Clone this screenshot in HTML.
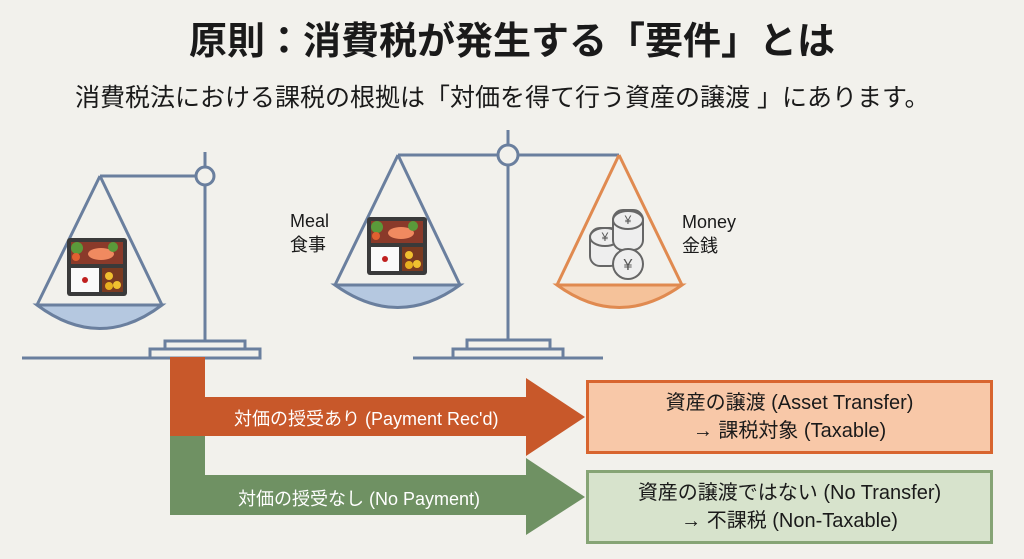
<!DOCTYPE html>
<html><head><meta charset="utf-8"><style>
body{margin:0;width:1024px;height:559px;background:#f2f1ec;overflow:hidden;font-family:"Liberation Sans","Noto Sans CJK JP",sans-serif;position:relative;color:#1a1a1a}
.t{position:absolute;left:0;width:1024px;text-align:center;top:10px;font-size:38px;font-weight:bold}
.s{position:absolute;left:75px;top:78px;font-size:25px}
.lbl{position:absolute;font-size:18px;line-height:24px}
.box{position:absolute;left:586px;width:407px;height:74px;text-align:center;font-size:20px;line-height:28px;display:flex;flex-direction:column;justify-content:center;box-sizing:border-box}
.at{position:absolute;color:#fff;font-size:18px}
</style></head><body>
<div class="t">原則：消費税が発生する「要件」とは</div>
<div class="s">消費税法における課税の根拠は「対価を得て行う資産の譲渡 」にあります。</div>
<svg width="1024" height="559" style="position:absolute;left:0;top:0">
<defs>
<g id="bento">
<rect x="0" y="0" width="60" height="58" rx="3" fill="#3a3a3a"/>
<rect x="4" y="4" width="52" height="22" fill="#8a3a2a"/>
<rect x="4" y="30" width="28" height="24" fill="#fafafa"/>
<circle cx="18" cy="42" r="3" fill="#c02020"/>
<rect x="35" y="30" width="21" height="24" fill="#7a3a20"/>
<circle cx="42" cy="38" r="4" fill="#f0c030"/><circle cx="50" cy="47" r="4" fill="#f0c030"/><circle cx="42" cy="48" r="4" fill="#e8b020"/>
<ellipse cx="34" cy="16" rx="13" ry="6" fill="#f08a60"/>
<circle cx="10" cy="10" r="6" fill="#5a9a3a"/><circle cx="9" cy="19" r="4" fill="#e06030"/><circle cx="46" cy="9" r="5" fill="#5a9a3a"/>
</g>
</defs>
<g fill="none" stroke="#6a7f9e" stroke-width="3">
<line x1="205" y1="152" x2="205" y2="342"/>
<line x1="100" y1="176" x2="196" y2="176"/>
<circle cx="205" cy="176" r="9" fill="#f2f1ec"/>
<path d="M100 176 L37 305 M100 176 L162 305"/>
<path d="M37 305 L162 305 Q100 352 37 305Z" fill="#b5c8e0"/>
<line x1="22" y1="358" x2="150" y2="358"/>
<rect x="165" y="341" width="80" height="9" fill="#f2f1ec"/>
<rect x="150" y="349" width="110" height="9" fill="#f2f1ec"/>
<line x1="508" y1="130" x2="508" y2="340"/>
<line x1="398" y1="155" x2="619" y2="155"/>
<circle cx="508" cy="155" r="10" fill="#f2f1ec"/>
<path d="M398 155 L335 285 M398 155 L460 285"/>
<path d="M335 285 L460 285 Q398 330 335 285Z" fill="#b5c8e0"/>
<line x1="413" y1="358" x2="603" y2="358"/>
<rect x="467" y="340" width="83" height="9" fill="#f2f1ec"/>
<rect x="453" y="349" width="110" height="9" fill="#f2f1ec"/>
</g>
<g fill="none" stroke="#e08a50" stroke-width="3">
<path d="M619 155 L557 285 M619 155 L682 285"/>
<path d="M557 285 L682 285 Q619 330 557 285Z" fill="#f5c29a"/>
</g>
<use href="#bento" x="67" y="238"/>
<use href="#bento" x="367" y="217"/>
<g stroke="#666" stroke-width="2" fill="#eee">
<rect x="590" y="228" width="30" height="38" rx="10"/><ellipse cx="605" cy="237" rx="15" ry="9"/>
<rect x="613" y="210" width="30" height="40" rx="10"/><ellipse cx="628" cy="220" rx="15" ry="9"/>
<circle cx="628" cy="264" r="15"/>
</g>
<g font-size="12" fill="#555" text-anchor="middle" font-family="Liberation Sans,sans-serif">
<text x="605" y="241">¥</text><text x="628" y="224">¥</text><text x="628" y="270" font-size="16">¥</text>
</g>
<path d="M170 436 L205 436 L205 475 L526 475 L526 458 L585 497 L526 535 L526 515 L170 515Z" fill="#6f9163"/>
<path d="M170 357 L205 357 L205 397 L526 397 L526 378 L585 417 L526 456 L526 436 L170 436Z" fill="#c8582a"/>
</svg>
<div class="lbl" style="left:290px;top:209px">Meal<br>食事</div>
<div class="lbl" style="left:682px;top:210px">Money<br>金銭</div>
<div class="at" style="left:234px;top:405px">対価の授受あり (Payment Rec'd)</div>
<div class="at" style="left:238px;top:485px">対価の授受なし (No Payment)</div>
<div class="box" style="top:380px;background:#f8c8a8;border:3px solid #d8652f">資産の譲渡 (Asset Transfer)<br>→ 課税対象 (Taxable)</div>
<div class="box" style="top:470px;background:#d7e3cc;border:3px solid #86a475">資産の譲渡ではない (No Transfer)<br>→ 不課税 (Non-Taxable)</div>
</body></html>
